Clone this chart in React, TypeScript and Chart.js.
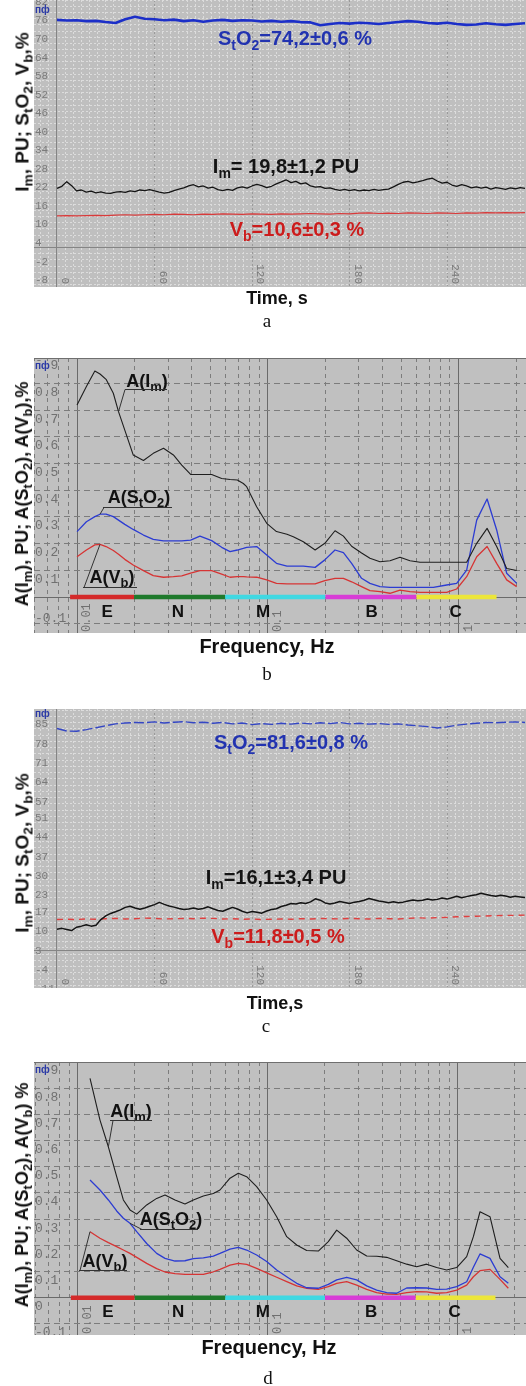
import React, { useEffect, useRef } from "react";
import { Chart, registerables } from "chart.js";

Chart.register(...registerables);

/* ============================ DATA ============================ */

// sampling step of the hand-read time traces (s)
const IM_STEP_S = 3;
const SLOW_STEP_S = 6;
const TIME_TICKS = [0, 60, 120, 180, 240];

// ---- panel a ----
const A_IM = [19.1, 19.8, 21.3, 20.0, 18.3, 18.6, 17.9, 18.2, 17.7, 18.0,
  17.6, 17.5, 17.9, 18.1, 17.8, 18.3, 18.1, 18.6, 18.4, 18.7,
  18.3, 17.9, 17.6, 17.8, 18.4, 18.9, 19.3, 19.9, 20.3, 19.6,
  19.9, 19.2, 19.5, 18.7, 18.4, 18.8, 18.5, 19.3, 19.6, 19.2,
  19.9, 20.4, 20.0, 19.4, 19.8, 20.6, 21.2, 21.9, 21.0, 21.4,
  20.6, 20.9, 19.9, 19.5, 19.7, 19.1, 19.3, 18.8, 18.5, 18.8,
  18.4, 18.7, 18.3, 18.6, 18.4, 18.8, 18.5, 18.7, 18.9, 19.6,
  20.4, 21.1, 21.4, 20.9, 21.2, 21.6, 22.1, 22.4, 21.5, 20.8,
  21.1, 20.2, 19.8, 20.3, 19.9, 19.3, 19.6, 19.2, 19.5, 18.9,
  19.4, 19.1, 18.8, 19.3, 19.0, 19.4, 19.1];
const A_STO2 = [73.6, 73.4, 73.5, 73.2, 73.3, 72.9, 72.6, 73.8, 74.6, 74.0,
  73.8, 73.5, 73.7, 73.2, 73.5, 73.0, 73.4, 73.6, 73.3, 73.5,
  73.4, 73.1, 73.3, 73.0, 73.2, 72.9, 72.8, 71.9, 72.3, 72.6,
  72.4, 72.7, 72.5, 72.3, 72.6, 72.9, 73.2, 73.0, 72.6, 72.4,
  72.7, 72.3, 72.0, 72.1, 72.5, 72.2, 72.0, 72.3, 72.5];
const A_VB = [10.2, 10.3, 10.2, 10.3, 10.4, 10.3, 10.5, 10.6, 10.5, 10.6,
  10.7, 10.6, 10.8, 10.7, 10.6, 10.8, 10.7, 10.9, 10.8, 10.7,
  10.9, 10.8, 10.7, 10.9, 10.8, 10.9, 11.0, 10.9, 10.8, 11.0,
  10.9, 11.1, 11.2, 11.0, 11.1, 11.0, 11.2, 11.1, 11.0, 11.2,
  11.1, 11.0, 11.2, 11.1, 11.3, 11.2, 11.3, 11.2, 11.3];
const A_Y_LABELS = [-8, -2, 4, 10, 16, 22, 28, 34, 40, 46, 52, 58, 64, 70, 76, 82];

// ---- panel c ----
const C_IM = [7.9, 8.2, 7.8, 7.4, 8.6, 9.0, 9.5, 9.0, 9.3, 11.4,
  12.7, 13.6, 14.2, 14.9, 15.8, 16.2, 15.6, 15.1, 15.6, 16.2,
  16.8, 17.6, 16.9, 16.3, 15.9, 15.4, 15.0, 15.2, 15.6, 15.1,
  15.4, 16.0, 15.3, 14.7, 14.4, 15.1, 15.8, 15.2, 14.4, 13.8,
  14.3, 14.0, 13.7, 14.5, 15.0, 15.3, 16.1, 16.6, 17.2, 17.0,
  17.5, 17.2, 17.8, 18.9, 18.4, 17.4, 17.0, 17.4, 17.9, 17.6,
  17.2, 17.7, 17.9, 18.4, 19.0, 18.6, 18.1, 17.8, 17.5, 17.8,
  17.5, 17.7, 18.1, 18.5, 18.2, 18.4, 18.8, 18.5, 18.7, 19.2,
  18.8, 19.3, 19.8, 19.3, 19.7, 20.1, 20.4, 20.9, 20.5, 20.1,
  19.8, 20.2, 19.9, 19.5, 19.8, 19.6, 19.4];
const C_STO2 = [80.6, 79.7, 79.6, 80.2, 80.9, 81.6, 82.3, 82.6, 82.8, 82.7,
  83.0, 82.6, 82.9, 83.1, 82.7, 82.9, 82.5, 82.8, 82.3, 82.6,
  82.0, 82.4, 82.1, 82.5, 82.2, 82.6, 82.3, 82.7, 82.4, 82.8,
  82.3, 82.5, 82.2, 82.4, 82.1, 82.3, 81.9, 81.6, 81.3, 80.8,
  81.2, 81.8, 82.2, 82.5, 82.8, 82.7, 82.9, 83.0, 82.8];
const C_VB = [11.4, 11.5, 11.4, 11.6, 11.5, 11.7, 11.8, 11.6, 11.7, 11.9,
  11.8, 11.6, 11.7, 11.8, 11.7, 11.9, 11.8, 11.6, 11.7, 11.5,
  11.6, 11.4, 11.5, 11.6, 11.5, 11.7, 11.6, 11.8, 11.7, 11.6,
  11.8, 11.7, 11.6, 11.8, 11.7, 11.6, 11.8, 12.0, 11.9, 12.1,
  12.2, 12.4, 12.5, 12.6, 12.7, 12.8, 12.9, 12.9, 13.0];
const C_Y_LABELS = [-11, -4, 3, 10, 17, 23, 30, 37, 44, 51, 57, 64, 71, 78, 85];

// ---- panel b (spectra) ----
const B_FREQ = [0.0100, 0.0112, 0.0124, 0.0132, 0.0142, 0.0155, 0.0165, 0.0178, 0.0197, 0.0223,
  0.0251, 0.0284, 0.0320, 0.0354, 0.0394, 0.0441, 0.0508, 0.0573, 0.0634, 0.0692,
  0.0744, 0.0775, 0.0874, 0.0987, 0.111, 0.126, 0.136, 0.1535, 0.177, 0.199,
  0.225, 0.249, 0.275, 0.310, 0.343, 0.387, 0.437, 0.493, 0.556, 0.628,
  0.737, 0.866, 0.977, 1.102, 1.244, 1.41, 1.583, 1.786, 2.015];
const B_IM = [0.719, 0.788, 0.846, 0.835, 0.815, 0.763, 0.694, 0.625, 0.532, 0.511,
  0.538, 0.557, 0.532, 0.494, 0.459, 0.459, 0.459, 0.444, 0.440, 0.438,
  0.425, 0.413, 0.338, 0.276, 0.245, 0.235, 0.226, 0.207, 0.176, 0.201,
  0.248, 0.228, 0.190, 0.165, 0.145, 0.132, 0.136, 0.149, 0.136, 0.130,
  0.130, 0.130, 0.130, 0.130, 0.201, 0.257, 0.189, 0.107, 0.099];
const B_STO2 = [0.245, 0.282, 0.301, 0.310, 0.310, 0.301, 0.288, 0.272, 0.253, 0.232,
  0.216, 0.210, 0.210, 0.210, 0.213, 0.228, 0.211, 0.186, 0.170, 0.176,
  0.182, 0.186, 0.189, 0.157, 0.126, 0.116, 0.116, 0.116, 0.111, 0.139,
  0.176, 0.166, 0.126, 0.070, 0.051, 0.039, 0.036, 0.036, 0.036, 0.036,
  0.036, 0.045, 0.051, 0.101, 0.288, 0.367, 0.251, 0.089, 0.051];
const B_VB = [0.151, 0.176, 0.195, 0.197, 0.189, 0.174, 0.160, 0.141, 0.120, 0.099,
  0.080, 0.074, 0.076, 0.079, 0.089, 0.099, 0.099, 0.086, 0.074, 0.076,
  0.076, 0.075, 0.074, 0.064, 0.051, 0.049, 0.049, 0.049, 0.049, 0.061,
  0.070, 0.070, 0.057, 0.039, 0.024, 0.020, 0.014, 0.026, 0.020, 0.017,
  0.017, 0.017, 0.030, 0.076, 0.151, 0.189, 0.126, 0.064, 0.039];

// ---- panel d (spectra) ----
const D_FREQ = [0.01161, 0.01310, 0.01450, 0.01604, 0.01739, 0.01885, 0.02044, 0.02307, 0.02604, 0.02881,
  0.03252, 0.03670, 0.04061, 0.04584, 0.05173, 0.05609, 0.06333, 0.07004, 0.07750, 0.08747,
  0.09876, 0.1115, 0.1259, 0.1421, 0.1604, 0.1847, 0.2085, 0.2307, 0.2604, 0.2939,
  0.3319, 0.3746, 0.4228, 0.4773, 0.5388, 0.6081, 0.6866, 0.7750, 0.8747, 0.9876,
  1.115, 1.209, 1.310, 1.479, 1.670, 1.847];
const D_IM = [0.837, 0.678, 0.576, 0.462, 0.373, 0.335, 0.319, 0.354, 0.379, 0.392,
  0.373, 0.358, 0.373, 0.388, 0.398, 0.411, 0.456, 0.475, 0.462, 0.424,
  0.373, 0.309, 0.233, 0.201, 0.180, 0.178, 0.214, 0.258, 0.227, 0.182,
  0.159, 0.158, 0.154, 0.141, 0.128, 0.118, 0.128, 0.115, 0.106, 0.115,
  0.157, 0.233, 0.328, 0.309, 0.150, 0.115];
const D_STO2 = [0.449, 0.411, 0.373, 0.331, 0.303, 0.284, 0.252, 0.207, 0.169, 0.150,
  0.140, 0.141, 0.149, 0.152, 0.159, 0.169, 0.185, 0.192, 0.182, 0.163,
  0.138, 0.106, 0.080, 0.055, 0.038, 0.036, 0.051, 0.068, 0.078, 0.068,
  0.045, 0.029, 0.019, 0.017, 0.037, 0.038, 0.037, 0.032, 0.033, 0.042,
  0.061, 0.116, 0.167, 0.150, 0.080, 0.055];
const D_VB = [0.252, 0.227, 0.210, 0.195, 0.182, 0.169, 0.154, 0.131, 0.111, 0.098,
  0.092, 0.089, 0.089, 0.089, 0.099, 0.108, 0.124, 0.131, 0.127, 0.112,
  0.095, 0.078, 0.061, 0.045, 0.036, 0.032, 0.042, 0.055, 0.061, 0.048,
  0.032, 0.019, 0.014, 0.013, 0.019, 0.023, 0.022, 0.017, 0.019, 0.029,
  0.048, 0.080, 0.103, 0.108, 0.070, 0.036];

const B_Y_LABELS = [-0.1, 0.1, 0.2, 0.3, 0.4, 0.5, 0.6, 0.7, 0.8, 0.9];
const D_Y_LABELS = [-0.1, 0, 0.1, 0.2, 0.3, 0.4, 0.5, 0.6, 0.7, 0.8, 0.9];
const FREQ_X_LABELS = [0.01, 0.1, 1];

const BAND_NAMES = ["E", "N", "M", "B", "C"];
const BAND_EDGES = [0.0092, 0.0199, 0.0597, 0.2, 0.6, 1.58];
const BAND_COLORS = ["#d42a2a", "#1f7a2c", "#3fd8e2", "#d83cd6", "#ece63a"];
const BAND_LABEL_FREQ = [0.0144, 0.0338, 0.0944, 0.35, 0.964];

/* ============================ LAYOUT ============================ */

const FONT_SANS = '"Liberation Sans", Arial, Helvetica, sans-serif';
const FONT_MONO = '"Liberation Mono", "DejaVu Sans Mono", monospace';
const FONT_SERIF = '"Liberation Serif", "Times New Roman", serif';

const BOX_A = { left: 34, top: 0, width: 492, height: 287 };
const BOX_B = { left: 34, top: 358, width: 492, height: 275 };
const BOX_C = { left: 34, top: 709, width: 492, height: 279 };
const BOX_D = { left: 34, top: 1062, width: 492, height: 273 };

const TIME_BG = "#bfbfbf";
const FREQ_BG = "#c0c0c0";
const BLUE_TXT = "#2233b0";
const RED_TXT = "#cc1c1c";

type Seg = [string, boolean?];

function drawRich(ctx: any, segs: Seg[], cx: number, base: number, size: number, color: string) {
  const main = `bold ${size}px ${FONT_SANS}`;
  const sub = `bold ${Math.round(size * 0.72)}px ${FONT_SANS}`;
  let total = 0;
  for (const [t, s] of segs) {
    ctx.font = s ? sub : main;
    total += ctx.measureText(t).width;
  }
  let x = cx - total / 2;
  ctx.save();
  ctx.fillStyle = color;
  ctx.textAlign = "left";
  ctx.textBaseline = "alphabetic";
  for (const [t, s] of segs) {
    ctx.font = s ? sub : main;
    ctx.fillText(t, x, s ? base + size * 0.24 : base);
    x += ctx.measureText(t).width;
  }
  ctx.restore();
}

function drawIcon(ctx: any, y: number, bg: string) {
  ctx.save();
  ctx.fillStyle = bg;
  ctx.fillRect(0, y - 5, 15, 10);
  ctx.font = `bold 10px ${FONT_SANS}`;
  ctx.fillStyle = "#2b3aa6";
  ctx.textAlign = "left";
  ctx.textBaseline = "middle";
  ctx.fillText("пф", 1, y);
  ctx.restore();
}

const baseOptions = (x: any, y: any) => ({
  responsive: false,
  animation: false,
  devicePixelRatio: 1,
  events: [],
  layout: { padding: 0 },
  plugins: { legend: { display: false }, tooltip: { enabled: false }, title: { display: false } },
  elements: { point: { radius: 0, hoverRadius: 0 }, line: { tension: 0, borderJoinStyle: "round" } },
  scales: { x, y },
});

/* ---------------------------- time panel ---------------------------- */

function TimePanel(props: any) {
  const ref = useRef<HTMLCanvasElement>(null);
  useEffect(() => {
    const p = props;
    const box = p.box;
    const xGrid: number[] = [];
    for (let t = -10; t <= p.tMax; t += 5) xGrid.push(t);
    const toPts = (arr: number[], step: number) => arr.map((v, i) => ({ x: i * step, y: v }));
    const decor = {
      id: "timeDecor",
      beforeDraw(chart: any) {
        const ctx = chart.ctx;
        ctx.save();
        ctx.fillStyle = TIME_BG;
        ctx.fillRect(0, 0, chart.width, chart.height);
        ctx.restore();
      },
      afterDraw(chart: any) {
        const { ctx } = chart;
        const xs = chart.scales.x;
        const ys = chart.scales.y;
        ctx.save();
        ctx.font = `11px ${FONT_MONO}`;
        ctx.fillStyle = "#7a7a7a";
        ctx.textBaseline = "middle";
        ctx.textAlign = "left";
        p.yLabels.forEach((v: number) => ctx.fillText(String(v), 1, ys.getPixelForValue(v) + 8));
        TIME_TICKS.forEach((t) => {
          ctx.save();
          ctx.translate(xs.getPixelForValue(t) + 8, chart.height - 3);
          ctx.rotate(Math.PI / 2);
          ctx.textAlign = "right";
          ctx.fillText(String(t), 0, 0);
          ctx.restore();
        });
        drawIcon(ctx, p.iconY, TIME_BG);
        p.notes.forEach((n: any) => drawRich(ctx, n.segs, n.x - box.left, n.base - box.top, n.size, n.color));
        ctx.restore();
      },
    };
    const xScale = {
      type: "linear",
      min: p.tMin,
      max: p.tMax,
      afterBuildTicks: (s: any) => { s.ticks = xGrid.map((v) => ({ value: v })); },
      ticks: { display: false },
      grid: {
        drawTicks: false,
        lineWidth: 1,
        color: (c: any) => {
          const v = c.tick ? c.tick.value : 1;
          if (v === 0) return "#858585";
          if (v % 60 === 0) return "#9a9a9a";
          return "#dcdcdc";
        },
      },
      border: { display: false, dash: (c: any) => (c.tick && c.tick.value === 0 ? [] : [2, 2]) },
    };
    const yScale = {
      type: "linear",
      min: p.yMin,
      max: p.yMax,
      afterBuildTicks: (s: any) => { s.ticks = p.yGrid.map((v: number) => ({ value: v })); },
      ticks: { display: false },
      grid: {
        drawTicks: false,
        lineWidth: 1,
        color: (c: any) => (c.tick && c.tick.value === 0 ? "#858585" : "#dcdcdc"),
      },
      border: { display: false, dash: (c: any) => (c.tick && c.tick.value === 0 ? [] : [2, 2]) },
    };
    const st = p.styles;
    const chart = new Chart(ref.current as any, {
      type: "line",
      data: {
        datasets: [
          { data: toPts(p.im, IM_STEP_S), borderColor: st.im.color, borderWidth: st.im.width, borderDash: st.im.dash, pointRadius: 0 },
          { data: toPts(p.sto2, SLOW_STEP_S), borderColor: st.sto2.color, borderWidth: st.sto2.width, borderDash: st.sto2.dash, pointRadius: 0 },
          { data: toPts(p.vb, SLOW_STEP_S), borderColor: st.vb.color, borderWidth: st.vb.width, borderDash: st.vb.dash, pointRadius: 0 },
        ],
      },
      options: baseOptions(xScale, yScale) as any,
      plugins: [decor as any],
    });
    return () => chart.destroy();
  }, []);
  const b = props.box;
  return (
    <canvas ref={ref} width={b.width} height={b.height}
      style={{ position: "absolute", left: b.left, top: b.top, width: b.width, height: b.height }} />
  );
}

/* ---------------------------- frequency panel ---------------------------- */

function FreqPanel(props: any) {
  const ref = useRef<HTMLCanvasElement>(null);
  useEffect(() => {
    const p = props;
    const box = p.box;
    const isDecade = (v: number) => Math.abs(Math.log10(v) - Math.round(Math.log10(v))) < 1e-6;
    const xGrid: number[] = [];
    for (let e = -3; e <= 0; e++) for (let m = 1; m <= 9; m++) {
      const v = +(m * Math.pow(10, e)).toPrecision(3);
      if (v >= p.xMin && v <= p.xMax) xGrid.push(v);
    }
    const yGrid: number[] = [];
    for (let k = -1; k <= 9; k++) { const v = +(k / 10).toFixed(1); if (v >= p.yMin && v < p.yMax) yGrid.push(v); }
    const series: any = { im: p.im, sto2: p.sto2, vb: p.vb };
    const decor = {
      id: "freqDecor",
      beforeDraw(chart: any) {
        const ctx = chart.ctx;
        ctx.save();
        ctx.fillStyle = FREQ_BG;
        ctx.fillRect(0, 0, chart.width, chart.height);
        ctx.restore();
      },
      afterDraw(chart: any) {
        const { ctx } = chart;
        const xs = chart.scales.x;
        const ys = chart.scales.y;
        ctx.save();
        // top frame line
        ctx.strokeStyle = "#6f6f6f";
        ctx.lineWidth = 1;
        ctx.beginPath(); ctx.moveTo(0, 0.5); ctx.lineTo(chart.width, 0.5); ctx.stroke();
        // y labels
        ctx.font = `13px ${FONT_MONO}`;
        ctx.fillStyle = "#707070";
        ctx.textBaseline = "middle";
        ctx.textAlign = "left";
        p.yLabels.forEach((v: number) => {
          let py = ys.getPixelForValue(v) + 9;
          if (p.clampLabels) py = Math.min(py, chart.height - 14);
          ctx.fillText(v === 0 ? "0" : v.toFixed(1), 1, py);
        });
        // x labels (rotated, reading upwards)
        ctx.font = `12px ${FONT_MONO}`;
        FREQ_X_LABELS.forEach((f) => {
          ctx.save();
          ctx.translate(xs.getPixelForValue(f) + 10, chart.height - 1);
          ctx.rotate(-Math.PI / 2);
          ctx.textAlign = "left";
          ctx.fillText(String(f), 0, 0);
          ctx.restore();
        });
        drawIcon(ctx, p.iconY, FREQ_BG);
        // band names
        ctx.font = `bold 17px ${FONT_SANS}`;
        ctx.fillStyle = "#111";
        ctx.textAlign = "center";
        ctx.textBaseline = "middle";
        const y0 = ys.getPixelForValue(0);
        BAND_NAMES.forEach((nm, i) => ctx.fillText(nm, xs.getPixelForValue(BAND_LABEL_FREQ[i]), y0 + 15));
        // curve annotations with leader lines
        p.notes.forEach((n: any) => {
          drawRich(ctx, n.segs, n.x - box.left, n.base - box.top, 18, "#111");
          const uy = n.ul[2] - box.top;
          ctx.strokeStyle = "#333";
          ctx.lineWidth = 1;
          ctx.beginPath();
          ctx.moveTo(n.ul[0] - box.left, uy);
          ctx.lineTo(n.ul[1] - box.left, uy);
          ctx.moveTo(n.from - box.left, uy);
          const arr = series[n.to.key];
          ctx.lineTo(xs.getPixelForValue(p.freq[n.to.idx]), ys.getPixelForValue(arr[n.to.idx]));
          ctx.stroke();
        });
        ctx.restore();
      },
    };
    const xScale = {
      type: "logarithmic",
      min: p.xMin,
      max: p.xMax,
      afterBuildTicks: (s: any) => { s.ticks = xGrid.map((v) => ({ value: v })); },
      ticks: { display: false },
      grid: {
        drawTicks: false,
        lineWidth: 1,
        color: (c: any) => (c.tick && isDecade(c.tick.value) ? "#6a6a6a" : "#7c7c7c"),
      },
      border: { display: false, dash: (c: any) => (c.tick && isDecade(c.tick.value) ? [] : [4, 4]) },
    };
    const yScale = {
      type: "linear",
      min: p.yMin,
      max: p.yMax,
      afterBuildTicks: (s: any) => { s.ticks = yGrid.map((v) => ({ value: v })); },
      ticks: { display: false },
      grid: {
        drawTicks: false,
        lineWidth: 1,
        color: (c: any) => (c.tick && c.tick.value === 0 ? "#6a6a6a" : "#7c7c7c"),
      },
      border: { display: false, dash: (c: any) => (c.tick && c.tick.value === 0 ? [] : [6, 4]) },
    };
    const pts = (arr: number[]) => arr.map((v, i) => ({ x: p.freq[i], y: v }));
    const datasets: any[] = [
      { data: pts(p.im), borderColor: "#1e1e1e", borderWidth: 1.1, pointRadius: 0 },
      { data: pts(p.sto2), borderColor: "#2c3cd2", borderWidth: 1.3, pointRadius: 0 },
      { data: pts(p.vb), borderColor: "#d63434", borderWidth: 1.3, pointRadius: 0 },
    ];
    BAND_NAMES.forEach((_, i) => {
      datasets.push({
        data: [{ x: BAND_EDGES[i], y: 0 }, { x: BAND_EDGES[i + 1], y: 0 }],
        borderColor: BAND_COLORS[i],
        borderWidth: 4.5,
        borderCapStyle: "butt",
        pointRadius: 0,
      });
    });
    const chart = new Chart(ref.current as any, {
      type: "line",
      data: { datasets },
      options: baseOptions(xScale, yScale) as any,
      plugins: [decor as any],
    });
    return () => chart.destroy();
  }, []);
  const b = props.box;
  return (
    <canvas ref={ref} width={b.width} height={b.height}
      style={{ position: "absolute", left: b.left, top: b.top, width: b.width, height: b.height }} />
  );
}

/* ---------------------------- html text ---------------------------- */

const Sb = ({ children }: any) => (
  <span style={{ fontSize: "0.72em", position: "relative", top: "0.28em" }}>{children}</span>
);

function YTitle({ cx, cy, size, children }: any) {
  return (
    <div style={{
      position: "absolute", left: cx, top: cy, transform: "translate(-50%, -50%) rotate(-90deg)",
      whiteSpace: "nowrap", fontFamily: FONT_SANS, fontWeight: "bold", fontSize: size, lineHeight: `${size + 4}px`, color: "#111",
    }}>{children}</div>
  );
}

function CenterText({ cx, cy, size, bold, serif, children }: any) {
  return (
    <div style={{
      position: "absolute", left: cx - 150, width: 300, top: cy - size, height: size * 2, lineHeight: `${size * 2}px`,
      textAlign: "center", whiteSpace: "nowrap", fontFamily: serif ? FONT_SERIF : FONT_SANS,
      fontWeight: bold ? "bold" : "normal", fontSize: size, color: "#111",
    }}>{children}</div>
  );
}

/* ---------------------------- app ---------------------------- */

const timeStylesA = {
  im: { color: "#141414", width: 1.3, dash: [] },
  sto2: { color: "#1c2fc8", width: 2.6, dash: [] },
  vb: { color: "#d83a3a", width: 1.2, dash: [] },
};
const timeStylesC = {
  im: { color: "#141414", width: 1.5, dash: [] },
  sto2: { color: "#3446c4", width: 1.4, dash: [10, 3] },
  vb: { color: "#e04040", width: 1.4, dash: [6, 5] },
};

function aGrid() {
  const g: number[] = [];
  for (let v = -12; v <= 80; v += 2) g.push(v);
  return g;
}
function cGrid() {
  const g: number[] = [0];
  const step = 6.8 / 3;
  for (let k = -7; k <= 37; k++) {
    const v = +(3.4 + k * step).toFixed(3);
    if (v > -13.4 && v < 87.6) g.push(v);
  }
  return g.sort((a, b) => a - b);
}

export default function App() {
  return (
    <div style={{ position: "absolute", left: 0, top: 0, width: 526, height: 1386, background: "#fff", overflow: "hidden" }}>
      {/* ---- a ---- */}
      <TimePanel
        box={BOX_A} tMin={-14.15} tMax={288.6} yMin={-12.77} yMax={80.04}
        yGrid={aGrid()} yLabels={A_Y_LABELS} im={A_IM} sto2={A_STO2} vb={A_VB} styles={timeStylesA} iconY={10}
        notes={[
          { segs: [["S"], ["t", true], ["O"], ["2", true], ["=74,2±0,6 %"]], x: 295, base: 45, size: 20, color: BLUE_TXT },
          { segs: [["I"], ["m", true], ["= 19,8±1,2 PU"]], x: 286, base: 173, size: 20, color: "#141414" },
          { segs: [["V"], ["b", true], ["=10,6±0,3 %"]], x: 297, base: 236, size: 20, color: RED_TXT },
        ]}
      />
      <YTitle cx={23} cy={112} size={19}>I<Sb>m</Sb>, PU; S<Sb>t</Sb>O<Sb>2</Sb>, V<Sb>b</Sb>,%</YTitle>
      <CenterText cx={277} cy={298} size={18} bold>Time, s</CenterText>
      <CenterText cx={267} cy={321} size={19} serif>a</CenterText>

      {/* ---- b ---- */}
      <FreqPanel
        box={BOX_B} xMin={0.005951} xMax={2.255} yMin={-0.1348} yMax={0.895}
        freq={B_FREQ} im={B_IM} sto2={B_STO2} vb={B_VB} yLabels={B_Y_LABELS} clampLabels iconY={8}
        notes={[
          { segs: [["A(I"], ["m", true], [")"]], x: 147, base: 387, ul: [125, 167, 389.5], from: 125, to: { key: "im", idx: 6 } },
          { segs: [["A(S"], ["t", true], ["O"], ["2", true], [")"]], x: 139, base: 503, ul: [103, 172, 507.5], from: 104, to: { key: "sto2", idx: 3 } },
          { segs: [["A(V"], ["b", true], [")"]], x: 112, base: 583, ul: [83, 137, 587.5], from: 84, to: { key: "vb", idx: 3 } },
        ]}
      />
      <YTitle cx={23} cy={494} size={18}>A(I<Sb>m</Sb>), PU; A(S<Sb>t</Sb>O<Sb>2</Sb>), A(V<Sb>b</Sb>),%</YTitle>
      <CenterText cx={267} cy={646} size={20} bold>Frequency, Hz</CenterText>
      <CenterText cx={267} cy={674} size={19} serif>b</CenterText>

      {/* ---- c ---- */}
      <TimePanel
        box={BOX_C} tMin={-14.15} tMax={288.6} yMin={-13.41} yMax={87.68}
        yGrid={cGrid()} yLabels={C_Y_LABELS} im={C_IM} sto2={C_STO2} vb={C_VB} styles={timeStylesC} iconY={5}
        notes={[
          { segs: [["S"], ["t", true], ["O"], ["2", true], ["=81,6±0,8 %"]], x: 291, base: 749, size: 20, color: BLUE_TXT },
          { segs: [["I"], ["m", true], ["=16,1±3,4 PU"]], x: 276, base: 884, size: 20, color: "#141414" },
          { segs: [["V"], ["b", true], ["=11,8±0,5 %"]], x: 278, base: 943, size: 20, color: RED_TXT },
        ]}
      />
      <YTitle cx={23} cy={853} size={19}>I<Sb>m</Sb>, PU; S<Sb>t</Sb>O<Sb>2</Sb>, V<Sb>b</Sb>,%</YTitle>
      <CenterText cx={275} cy={1003} size={18} bold>Time,s</CenterText>
      <CenterText cx={266} cy={1026} size={19} serif>c</CenterText>

      {/* ---- d ---- */}
      <FreqPanel
        box={BOX_D} xMin={0.005888} xMax={2.288} yMin={-0.1424} yMax={0.8996}
        freq={D_FREQ} im={D_IM} sto2={D_STO2} vb={D_VB} yLabels={D_Y_LABELS} clampLabels={false} iconY={8}
        notes={[
          { segs: [["A(I"], ["m", true], [")"]], x: 131, base: 1117, ul: [110, 152, 1120.5], from: 113, to: { key: "im", idx: 2 } },
          { segs: [["A(S"], ["t", true], ["O"], ["2", true], [")"]], x: 171, base: 1225, ul: [140, 198, 1229.5], from: 142, to: { key: "sto2", idx: 5 } },
          { segs: [["A(V"], ["b", true], [")"]], x: 105, base: 1267, ul: [79, 127, 1270.5], from: 80, to: { key: "vb", idx: 0 } },
        ]}
      />
      <YTitle cx={23} cy={1195} size={18}>A(I<Sb>m</Sb>), PU; A(S<Sb>t</Sb>O<Sb>2</Sb>), A(V<Sb>b</Sb>) %</YTitle>
      <CenterText cx={269} cy={1347} size={20} bold>Frequency, Hz</CenterText>
      <CenterText cx={268} cy={1378} size={19} serif>d</CenterText>
    </div>
  );
}
